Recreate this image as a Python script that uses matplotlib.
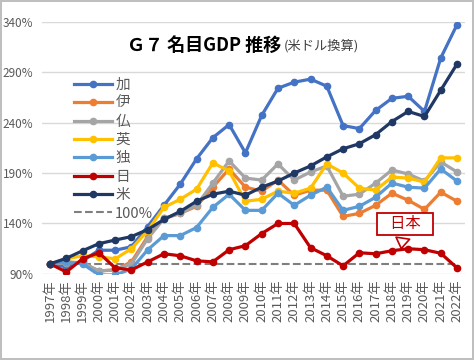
import numpy as np
import matplotlib.pyplot as plt

plt.rcParams['font.family'] = ['Noto Sans CJK JP', 'DejaVu Sans']

# Years and series (1997 = 100%)
years = [str(y) + '年' for y in range(1997, 2023)]

canada = [100, 97, 103, 113.5, 113.5, 117, 137, 158, 179, 204, 225, 238, 210, 247,
          274, 280, 283, 276, 237, 234, 252, 264, 266, 251, 304, 337]
italy = [100, 102, 101, 93, 94, 102, 127, 145, 150, 157, 176, 194, 176, 172,
         183, 168, 173, 173, 147, 150, 158, 170, 163, 154, 171, 162]
france = [100, 101, 101, 93, 94, 100, 125, 145, 150, 158, 180, 202, 185, 183,
          199, 183, 191, 197, 167, 169, 180, 193, 189, 182, 201, 191]
uk = [100, 105, 108, 107, 105, 115, 133, 156, 164, 174, 200, 192, 162, 164,
      172, 170, 175, 199, 190, 175, 173, 186, 185, 181, 205, 205]
germany = [100, 102, 100, 89, 89, 95, 114, 128, 128, 136, 156, 169, 153, 153,
           170, 158, 168, 176, 153, 157, 166, 180, 176, 175, 194, 182]
japan = [100, 92, 105, 111, 96, 94, 102, 110, 108, 103, 102, 114, 118, 130,
         140, 140, 116, 108, 98, 111, 110, 113, 115, 114, 110.5, 96]
usa = [100, 105.5, 113, 120, 123.6, 127, 134, 144, 152, 162, 169, 172, 168, 176,
       182, 190, 197, 206, 214, 219, 228, 241, 251, 246, 272, 298]

series = [('加', canada, '#4472C4'), ('伊', italy, '#ED7D31'), ('仏', france, '#A5A5A5'),
          ('英', uk, '#FFC000'), ('独', germany, '#5B9BD5'), ('日', japan, '#C00000'),
          ('米', usa, '#203864')]

yticks = [90, 140, 190, 240, 290, 340]

fig = plt.figure(figsize=(4.74, 3.6), dpi=100)
fig.patch.set_edgecolor('#BFBFBF')
fig.patch.set_linewidth(1.5)
ax = fig.add_axes([0.0884, 0.239, 0.893, 0.701])

x = np.arange(len(years))
base, = ax.plot(x, [100] * len(x), ls='--', color='#7F7F7F', lw=1.5, label='100%', zorder=2)

handles = []
for name, vals, col in series:
    h, = ax.plot(x, vals, color=col, lw=2.3, marker='o', ms=4.5, label=name,
                 clip_on=True, zorder=3)
    handles.append(h)

ax.set_xlim(-0.5, len(x) - 0.5)
ax.set_ylim(90, 340)
ax.set_yticks(yticks)
ax.set_yticklabels([f'{v}%' for v in yticks], color='#595959', fontsize=8.5)
ax.set_xticks(x)
ax.set_xticklabels(years, rotation=90, color='#595959', fontsize=9.5)
ax.tick_params(length=0, pad=6)
ax.tick_params(axis='x', pad=4)
ax.grid(axis='y', color='#D9D9D9', lw=1)
ax.set_axisbelow(True)
for s in ax.spines.values():
    s.set_visible(False)

ax.legend(handles + [base], [h.get_label() for h in handles] + ['100%'],
          loc='upper left', bbox_to_anchor=(0.063, 0.80), frameon=False,
          fontsize=10.5, labelcolor='#595959', handlelength=2.6, handletextpad=0.2,
          labelspacing=0.3, borderaxespad=0)

title = fig.text(0.268, 0.875, 'Ｇ７ 名目GDP 推移', fontsize=13, fontweight='bold', va='center')
fig.canvas.draw()
bb = title.get_window_extent().transformed(fig.transFigure.inverted())
fig.text(bb.x1 + 0.006, 0.872, '(米ドル換算)', fontsize=9.5, va='center', color='#404040')

# callout box for Japan
ax.annotate('   日本   ', xy=(21.55, 112.5), xytext=(21.8, 139.5), color='#C00000', fontsize=11,
            ha='center', va='center',
            bbox=dict(boxstyle='square,pad=0.15', fc='white', ec='#C00000', lw=1.3),
            arrowprops=dict(arrowstyle='wedge,tail_width=0.9,shrink_factor=0.5',
                            fc='white', ec='#C00000', lw=1.2))

fig.savefig('out.png', dpi=100)
